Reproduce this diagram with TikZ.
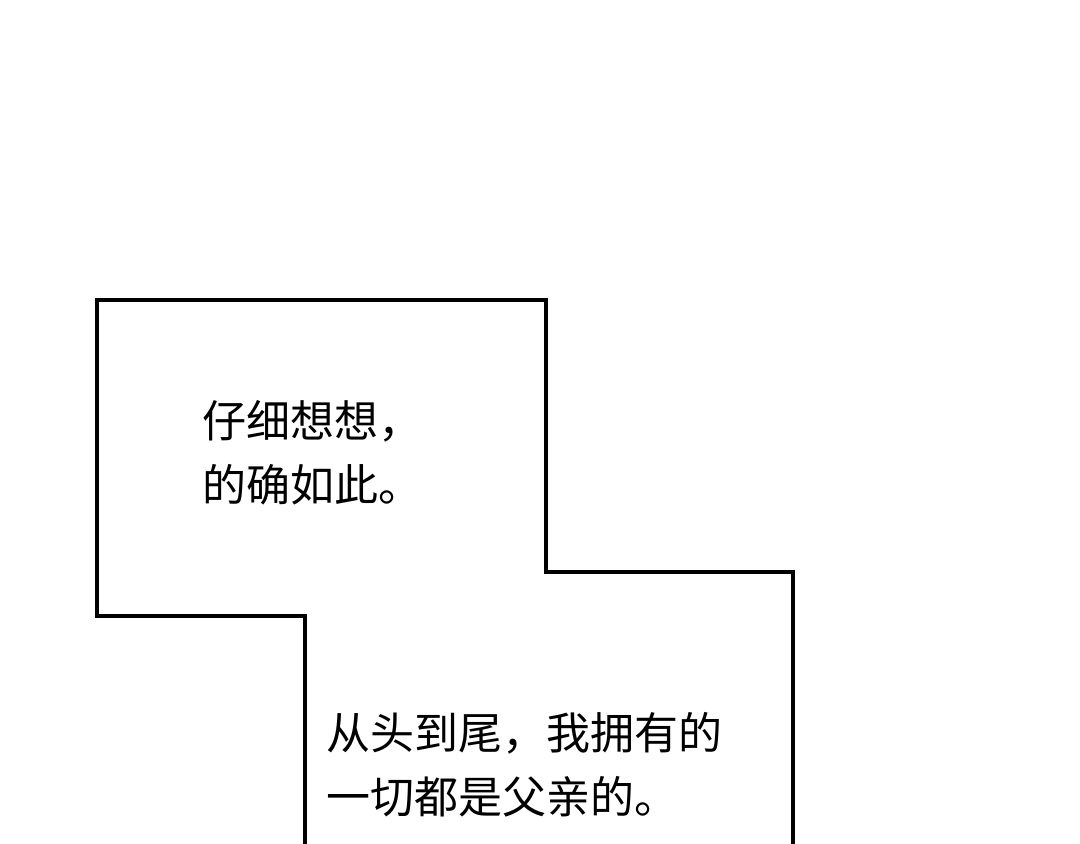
\documentclass[tikz,border=0pt]{standalone}
\usepackage{fontspec}
\newfontfamily\cjk{Noto Sans CJK SC}
\begin{document}
\begin{tikzpicture}[x=1pt,y=-1pt,
  txt/.style={font=\cjk\fontsize{44}{64}\selectfont,anchor=north west,align=left,inner sep=0pt}]
\useasboundingbox (0,0) rectangle (1080,844);
\fill[white] (0,0) rectangle (1080,844);
\draw[line width=3.2pt,line join=miter] (793,850) -- (793,572) -- (546,572) -- (546,300) -- (97,300) -- (97,616) -- (305,616) -- (305,850);
\node[txt] (t1) at (202,400) {仔细想想，\\的确如此。};
\node[txt] (t2) at (326,712) {从头到尾，我拥有的\\一切都是父亲的。};
\end{tikzpicture}
\end{document}
